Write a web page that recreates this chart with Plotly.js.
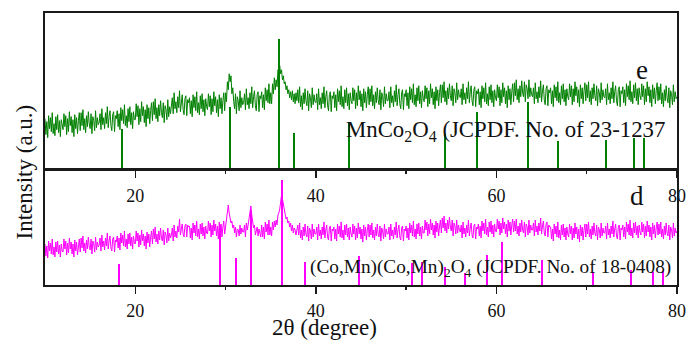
<!DOCTYPE html>
<html><head><meta charset="utf-8">
<script src="https://cdn.plot.ly/plotly-3.0.1.min.js"></script>
<style>html,body{margin:0;padding:0;background:#fff}#chart{width:689px;height:345px}</style>
</head><body><div id="chart"></div>
<script>
// 2θ scan grid (degrees)
const scanStart = 10, scanStep = 0.1;

// sample e (green) intensity, a.u. (one row = 2 degrees)
const intensityE = [
51,35,48,32,54,41,52,38,57,36,46,34,53,40,55,37,49,33,50,42,
40,56,43,54,35,51,38,58,44,53,37,50,33,55,41,52,36,49,57,39,
57,44,60,40,51,37,54,43,58,46,41,56,36,53,49,39,59,42,52,45,
47,56,40,61,45,52,41,57,46,63,42,53,59,44,39,55,58,38,54,51,
59,43,56,40,62,49,60,46,65,44,54,42,61,48,63,45,57,41,58,50,
50,66,53,64,45,61,48,68,54,63,47,60,43,65,51,62,46,59,67,49,
68,55,71,51,62,48,65,54,69,57,52,67,47,64,60,50,70,53,63,56,
63,72,56,77,61,68,57,73,62,79,58,69,75,60,55,71,74,54,70,67,
72,56,69,53,75,62,73,59,78,57,67,55,74,61,76,58,70,54,71,63,
60,76,63,74,55,71,58,78,64,73,57,70,53,75,61,72,56,69,77,59,
77,68,88,80,96,88,94,76,82,68,61,76,56,73,69,59,79,62,72,65,
67,76,60,81,65,72,61,77,66,83,62,73,79,64,59,75,78,58,74,71,
78,62,75,60,82,69,80,67,86,66,77,66,86,76,92,80,90,83,100,97,
104,96,100,90,94,86,88,80,84,76,80,72,78,70,79,68,76,66,77,69,
80,67,83,63,74,60,77,66,81,69,64,79,59,76,72,62,82,65,75,68,
67,76,60,81,65,72,61,77,66,83,62,73,79,64,59,75,78,58,74,71,
78,62,75,59,81,68,79,65,84,63,73,61,80,67,82,64,76,60,77,69,
66,82,69,80,61,77,64,84,70,79,63,76,59,81,67,78,62,75,83,65,
81,68,84,64,75,61,78,67,82,70,65,80,60,77,73,63,83,66,76,69,
69,78,62,83,67,74,63,79,68,85,64,75,81,66,61,77,80,60,76,73,
80,64,77,61,83,70,81,67,86,65,75,63,82,69,84,66,78,62,79,71,
68,84,71,82,63,79,66,86,72,81,65,78,61,83,69,80,64,77,85,67,
85,72,88,68,79,65,82,71,86,74,69,84,64,81,77,67,87,70,80,73,
72,81,65,86,70,77,66,82,71,88,67,78,84,69,64,80,83,63,79,76,
81,65,78,62,84,71,82,68,87,66,76,64,83,70,85,67,79,63,80,72,
69,85,72,83,64,80,67,87,73,82,66,79,62,84,70,81,65,78,86,68,
87,74,90,70,81,67,84,73,89,77,73,88,68,85,81,71,90,73,82,75,
73,82,66,87,71,78,67,83,72,89,68,79,85,70,65,81,84,64,80,77,
82,66,79,63,85,72,83,69,88,67,77,65,84,71,86,68,80,64,81,73,
70,86,73,84,65,81,68,88,74,83,67,80,63,85,71,82,66,79,87,69,
85,72,88,68,79,65,82,71,86,74,69,84,64,81,77,67,87,70,80,73,
72,81,65,86,70,77,66,82,71,88,67,78,84,69,64,80,83,63,79,76,
83,67,80,64,86,73,84,70,89,68,78,66,85,72,87,69,81,65,82,74,
70,86,73,84,65,81,68,88,74,83,67,80,63,85,71,82,66,79,87,69,
83,70,86,66,77,63,80,69,84,72,67,82,62,79,75,65,85,68,78,71,
73
];

// sample d (magenta) intensity, a.u. (one row = 2 degrees)
const intensityD = [
41,29,39,27,44,34,42,31,46,30,38,28,43,33,44,31,40,28,41,34,
33,46,36,44,30,42,32,47,36,43,31,41,28,45,34,43,30,40,46,33,
47,37,49,34,42,32,45,36,48,38,35,46,31,44,41,33,48,35,43,38,
40,47,34,50,38,44,35,47,39,52,36,44,49,37,34,46,48,33,45,43,
49,37,47,35,52,42,50,39,54,38,46,36,51,41,52,39,48,36,49,42,
41,54,44,52,38,50,40,55,44,51,39,49,36,53,42,51,38,48,54,41,
56,46,58,43,51,41,54,45,57,47,44,55,40,53,50,42,57,44,52,47,
50,57,44,60,48,54,47,59,53,66,50,56,61,51,48,59,61,48,60,58,
59,47,57,45,62,52,60,49,64,48,56,46,61,51,62,49,58,46,59,52,
51,64,54,62,48,60,50,65,54,61,49,59,46,63,52,61,48,58,64,51,
60,66,74,80,72,68,62,64,57,60,52,58,48,56,55,49,60,51,57,53,
53,60,48,62,55,60,66,72,79,70,64,57,60,50,54,58,49,56,52,48,
60,48,58,46,63,53,61,50,65,50,58,49,63,55,64,58,65,60,70,72,
76,84,90,86,80,74,70,66,68,62,64,58,62,54,60,52,57,55,50,56,
60,50,62,47,55,45,58,49,61,51,48,59,44,57,54,46,61,48,56,51,
51,58,45,61,49,55,46,58,50,63,47,55,60,48,45,57,59,44,56,54,
58,46,56,44,61,51,59,48,63,47,55,45,60,50,61,48,57,45,58,51,
48,61,51,59,45,57,47,62,51,58,46,56,43,60,49,58,45,55,61,48,
60,50,62,47,55,45,58,49,61,51,48,59,44,57,54,46,61,48,56,51,
51,58,45,61,49,55,46,58,50,63,47,55,60,48,45,57,59,44,56,54,
59,47,57,45,62,52,60,49,64,48,56,46,61,51,62,49,58,46,59,52,
52,65,55,63,49,61,51,66,55,62,50,60,47,64,53,62,49,59,65,52,
67,57,69,54,62,52,65,56,68,58,54,65,49,62,59,51,65,52,60,55,
53,60,47,63,51,57,48,60,52,65,49,57,62,50,47,59,61,46,58,56,
61,49,59,47,64,54,62,51,66,50,58,48,63,53,64,51,60,48,61,54,
53,66,56,64,50,62,52,67,56,63,51,61,48,65,54,63,50,60,66,53,
64,54,66,51,59,49,62,53,65,55,52,63,48,61,58,50,65,52,60,55,
55,62,49,65,53,59,50,62,54,67,51,59,64,52,49,61,63,48,60,58,
58,46,56,44,61,51,59,48,63,47,55,45,60,50,61,48,57,45,58,51,
48,61,51,59,45,57,47,62,51,58,46,56,43,60,49,58,45,55,61,48,
61,51,63,48,56,46,59,50,62,52,49,60,45,58,55,47,62,49,57,52,
52,59,46,62,50,56,47,59,51,64,48,56,61,49,46,58,60,45,57,55,
60,48,58,46,63,53,61,50,65,49,57,47,62,52,63,50,59,47,60,53,
50,63,53,61,47,59,49,64,53,60,48,58,45,62,51,60,47,57,63,50,
61,51,63,48,56,46,59,50,62,52,49,60,45,58,55,47,62,49,57,52,
54
];

// reference patterns (stick positions in 2θ, relative heights)
const refE_pos = [18.5, 30.5, 35.9, 37.6, 43.7, 54.3, 57.9, 63.5, 66.8, 72.1, 75.2, 76.3];
const refE_int = [41, 63, 131, 37, 46.5, 35.5, 58, 68, 28.5, 29.5, 31.5, 31.5];
const refD_pos = [18.2, 29.4, 31.2, 32.85, 36.3, 38.8, 44.8, 50.6, 51.8, 54.3, 56.5, 59.0, 60.6, 65.1, 70.7, 74.9, 77.3, 78.4];
const refD_int = [21, 60, 27, 75, 105, 23.3, 29.3, 22, 23.3, 18, 12, 30, 42.7, 25, 13.3, 15, 13.3, 14];

const xTicks = [20, 40, 60, 80];
const labelE = 'MnCo<sub>2</sub>O<sub>4</sub> (JCPDF. No. of 23-1237';
const labelD = '(Co,Mn)(Co,Mn)<sub>2</sub>O<sub>4</sub> (JCPDF. No. of 18-0408)';

const scanX = intensityE.map((_, i) => +(scanStart + i * scanStep).toFixed(2));

const GREEN = '#008000', MAGENTA = '#ff00ff', AX = '#1a1a1a';
const FONT = 'Times New Roman, Liberation Serif, serif';

const traces = [
  {type: 'bar', x: refE_pos, y: refE_int, width: 0.22, marker: {color: GREEN, line: {width: 0}}, xaxis: 'x', yaxis: 'y', hoverinfo: 'skip'},
  {type: 'scatter', mode: 'lines', x: scanX, y: intensityE, line: {color: GREEN, width: 1}, xaxis: 'x', yaxis: 'y'},
  {type: 'bar', x: refD_pos, y: refD_int, width: 0.22, marker: {color: MAGENTA, line: {width: 0}}, xaxis: 'x2', yaxis: 'y2', hoverinfo: 'skip'},
  {type: 'scatter', mode: 'lines', x: scanX, y: intensityD, line: {color: MAGENTA, width: 1}, xaxis: 'x2', yaxis: 'y2'}
];

const xCommon = {
  range: [10, 80], tickvals: xTicks, ticktext: xTicks.map(String),
  ticks: 'outside', ticklen: 7, tickwidth: 1.5, tickcolor: AX,
  showline: true, linecolor: AX, linewidth: 1.6, mirror: true,
  showgrid: false, zeroline: false, ticklabelstandoff: 2,
  tickfont: {family: FONT, size: 18, color: '#111'},
  minor: {tickvals: [30, 50, 70], ticks: 'outside', ticklen: 3, tickwidth: 1.5, tickcolor: AX, showgrid: false}
};
const yCommon = {
  showline: true, linecolor: AX, linewidth: 1.6, mirror: true,
  showticklabels: false, ticks: '', showgrid: false, zeroline: false
};

const split = 0.4246;
const layout = {
  width: 689, height: 345,
  margin: {l: 45, r: 12, t: 13, b: 60},
  paper_bgcolor: '#fff', plot_bgcolor: '#fff',
  showlegend: false, bargap: 0,
  font: {family: FONT, color: '#111'},
  xaxis: Object.assign({}, xCommon, {anchor: 'y'}),
  yaxis: Object.assign({}, yCommon, {domain: [split, 1], range: [0, 157], anchor: 'x'}),
  xaxis2: Object.assign({}, xCommon, {anchor: 'y2'}),
  yaxis2: Object.assign({}, yCommon, {domain: [0, split], range: [0, 115.5], anchor: 'x2'}),
  annotations: [
    {text: labelE, xref: 'x', yref: 'y', x: 43.1, y: 38.5, xanchor: 'left', yanchor: 'middle', showarrow: false, font: {family: FONT, size: 22.8, color: '#111'}},
    {text: labelD, xref: 'x2', yref: 'y2', x: 39.16, y: 16.7, xanchor: 'left', yanchor: 'middle', showarrow: false, font: {family: FONT, size: 19.3, color: '#111'}},
    {text: 'e', xref: 'x', yref: 'y', x: 76.09, y: 99.5, xanchor: 'center', yanchor: 'middle', showarrow: false, font: {family: FONT, size: 27, color: '#111'}},
    {text: 'd', xref: 'x2', yref: 'y2', x: 75.57, y: 89, xanchor: 'center', yanchor: 'middle', showarrow: false, font: {family: FONT, size: 27, color: '#111'}},
    {text: 'Intensity (a.u.)', xref: 'paper', yref: 'paper', x: -0.0332, y: 0.4136, xanchor: 'center', yanchor: 'middle', textangle: -90, showarrow: false, font: {family: FONT, size: 23, color: '#111'}},
    {text: '2θ (degree)', xref: 'paper', yref: 'paper', x: 0.4415, y: -0.158, xanchor: 'center', yanchor: 'middle', showarrow: false, font: {family: FONT, size: 23, color: '#111'}}
  ]
};

Plotly.newPlot('chart', traces, layout, {displayModeBar: false, staticPlot: true});
</script>
</body></html>
